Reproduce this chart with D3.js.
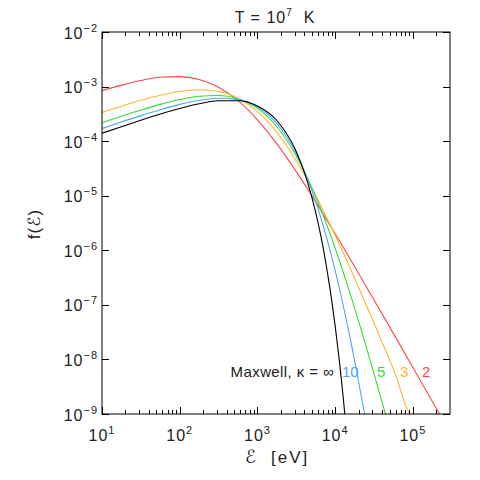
<!DOCTYPE html>
<html>
<head>
<meta charset="utf-8">
<script src="https://cdn.jsdelivr.net/npm/d3@7"></script>
<style>
  body { margin: 0; background: #fff; }
  svg text { font-family: "Liberation Sans", "DejaVu Sans", sans-serif; }
</style>
</head>
<body>
<svg id="chart" width="480" height="480"></svg>
<script>
// log10(E) sample points and f(E) values
const logE = [1, 1.25, 1.5, 1.75, 2, 2.25, 2.5, 2.75, 3, 3.25, 3.5, 3.75, 4, 4.25, 4.5, 4.75, 5, 5.25, 5.5];

const kappa2 = [8.405e-4, 1.064e-3, 1.295e-3, 1.478e-3, 1.523e-3, 1.348e-3, 9.714e-4, 5.513e-4, 2.459e-4,
  8.913e-5, 2.762e-5, 7.700e-6, 2.007e-6, 5.030e-7, 1.230e-7, 2.969e-8, 7.112e-9, 1.696e-9, 4.035e-10];

const kappa3 = [3.361e-4, 4.377e-4, 5.596e-4, 6.932e-4, 8.136e-4, 8.729e-4, 8.122e-4, 6.129e-4, 3.502e-4,
  1.451e-4, 4.369e-5, 1.003e-5, 1.882e-6, 3.082e-7, 4.635e-8, 6.625e-9, 9.190e-10];

const logE5 = [1, 1.25, 1.5, 1.75, 2, 2.25, 2.5, 2.75, 3, 3.25, 3.5, 3.75, 4, 4.25, 4.5, 4.625, 4.75];
const kappa5 = [2.179e-4, 2.861e-4, 3.713e-4, 4.718e-4, 5.779e-4, 6.649e-4, 6.871e-4, 5.976e-4, 3.987e-4,
  1.837e-4, 5.350e-5, 9.545e-6, 1.088e-6, 8.715e-8, 5.445e-9, 1.276e-9, 2.900e-10];

const logE10 = [1, 1.25, 1.5, 1.75, 2, 2.25, 2.5, 2.75, 3, 3.25, 3.5, 3.75, 3.875, 4, 4.125, 4.25, 4.375, 4.425];
const kappa10 = [1.706e-4, 2.248e-4, 2.937e-4, 3.775e-4, 4.717e-4, 5.611e-4, 6.116e-4, 5.756e-4, 4.237e-4,
  2.114e-4, 5.944e-5, 7.798e-6, 2.032e-6, 4.224e-7, 7.035e-8, 9.514e-9, 1.066e-9, 4.235e-10];

const logEM = [1, 1.25, 1.5, 1.75, 2, 2.25, 2.5, 2.75, 3, 3.25, 3.5, 3.625, 3.75, 3.825, 3.875, 3.925, 3.95, 4, 4.05, 4.1, 4.15];
const maxwell = [1.394e-4, 1.843e-4, 2.418e-4, 3.134e-4, 3.972e-4, 4.841e-4, 5.496e-4, 5.507e-4, 4.420e-4,
  2.389e-4, 6.396e-5, 2.170e-5, 4.906e-6, 1.562e-6, 6.418e-7, 2.350e-7, 1.355e-7, 4.069e-8, 1.046e-8, 2.264e-9, 4.03e-10];

const series = [
  { name: "2", x: logE, y: kappa2, color: "#ff4444", lx: 422, anchor: "start" },
  { name: "3", x: logE, y: kappa3, color: "#ffb533", lx: 400, anchor: "start" },
  { name: "5", x: logE5, y: kappa5, color: "#33dd33", lx: 377, anchor: "start" },
  { name: "10", x: logE10, y: kappa10, color: "#4da6ff", lx: 342, anchor: "start" },
  { name: "Maxwell,  κ = ∞", x: logEM, y: maxwell, color: "#000000", lx: 334, anchor: "end" }
];

const xTicks = [1, 2, 3, 4, 5];
const yTicks = [-9, -8, -7, -6, -5, -4, -3, -2];

const m = { left: 102, right: 450, top: 32, bottom: 414 };

const svg = d3.select("#chart");

const x = d3.scaleLog().domain([10, 3e5]).range([m.left, m.right]);
const y = d3.scaleLog().domain([1e-9, 1e-2]).range([m.bottom, m.top]);

svg.append("defs").append("clipPath").attr("id", "clip")
  .append("rect").attr("x", m.left).attr("y", m.top)
  .attr("width", m.right - m.left).attr("height", m.bottom - m.top);

// curves
const line = d3.line()
  .x(d => x(Math.pow(10, d[0])))
  .y(d => y(d[1]))
  .curve(d3.curveMonotoneX);

const curves = svg.append("g").attr("clip-path", "url(#clip)");
series.forEach(s => {
  curves.append("path")
    .datum(s.x.map((v, i) => [v, s.y[i]]))
    .attr("d", line)
    .attr("fill", "none")
    .attr("stroke", s.color)
    .attr("stroke-width", 1.1);
});

// frame
svg.append("rect")
  .attr("x", m.left).attr("y", m.top)
  .attr("width", m.right - m.left).attr("height", m.bottom - m.top)
  .attr("fill", "none").attr("stroke", "#000").attr("stroke-width", 1);

// x ticks (major + minor), inward on top and bottom
const ticksG = svg.append("g").attr("stroke", "#000").attr("stroke-width", 1);
const xMinor = [];
for (let p = 1; p <= 5; p++) {
  for (let k = 2; k <= 9; k++) {
    const v = k * Math.pow(10, p);
    if (v < 3e5) xMinor.push(v);
  }
}
xTicks.forEach(p => {
  const xx = Math.round(x(Math.pow(10, p))) + 0.5;
  ticksG.append("line").attr("x1", xx).attr("x2", xx).attr("y1", m.bottom).attr("y2", m.bottom - 7);
  ticksG.append("line").attr("x1", xx).attr("x2", xx).attr("y1", m.top).attr("y2", m.top + 7);
});
xMinor.forEach(v => {
  const xx = Math.round(x(v)) + 0.5;
  ticksG.append("line").attr("x1", xx).attr("x2", xx).attr("y1", m.bottom).attr("y2", m.bottom - 4);
  ticksG.append("line").attr("x1", xx).attr("x2", xx).attr("y1", m.top).attr("y2", m.top + 4);
});
yTicks.forEach(p => {
  const yy = Math.round(y(Math.pow(10, p))) + 0.5;
  ticksG.append("line").attr("x1", m.left).attr("x2", m.left + 7).attr("y1", yy).attr("y2", yy);
  ticksG.append("line").attr("x1", m.right).attr("x2", m.right - 7).attr("y1", yy).attr("y2", yy);
});

// tick labels
xTicks.forEach(p => {
  const t = svg.append("text")
    .attr("x", x(Math.pow(10, p)))
    .attr("y", 441)
    .attr("text-anchor", "middle")
    .attr("font-size", 16)
    .attr("letter-spacing", 1)
    .attr("fill", "#222");
  t.append("tspan").text("10");
  t.append("tspan").attr("dy", -7).attr("font-size", 11).text(p);
});
yTicks.forEach(p => {
  const t = svg.append("text")
    .attr("x", 98)
    .attr("y", y(Math.pow(10, p)) + 6.5)
    .attr("text-anchor", "end")
    .attr("font-size", 16)
    .attr("letter-spacing", 1)
    .attr("fill", "#222");
  t.append("tspan").text("10");
  t.append("tspan").attr("dy", -7).attr("font-size", 11).text("\u2212" + Math.abs(p));
});

// title
const title = svg.append("text")
  .attr("x", 275).attr("y", 23)
  .attr("text-anchor", "middle")
  .attr("font-size", 16)
  .attr("letter-spacing", 1)
  .attr("fill", "#222");
title.append("tspan").text("T = 10");
title.append("tspan").attr("dy", -7).attr("font-size", 10).text("7");
title.append("tspan").attr("dy", 7).text("\u00a0\u00a0K");

// axis titles
svg.append("text")
  .attr("x", 245).attr("y", 463)
  .attr("font-size", 18)
  .attr("fill", "#222")
  .text("\u2130");
svg.append("text")
  .attr("x", 271).attr("y", 463)
  .attr("font-size", 17)
  .attr("letter-spacing", 2)
  .attr("fill", "#222")
  .text("[eV]");

svg.append("text")
  .attr("transform", "translate(40,224) rotate(-90)")
  .attr("text-anchor", "middle")
  .attr("font-size", 17)
  .attr("letter-spacing", 1)
  .attr("fill", "#222")
  .text("f(\u2130)");

// curve labels
series.forEach(s => {
  svg.append("text")
    .attr("x", s.lx)
    .attr("y", 377)
    .attr("text-anchor", s.anchor)
    .attr("font-size", 15)
    .attr("letter-spacing", s.anchor === "end" ? 0.4 : 0)
    .attr("fill", s.color === "#000000" ? "#222" : s.color)
    .text(s.name);
});
</script>
</body>
</html>
